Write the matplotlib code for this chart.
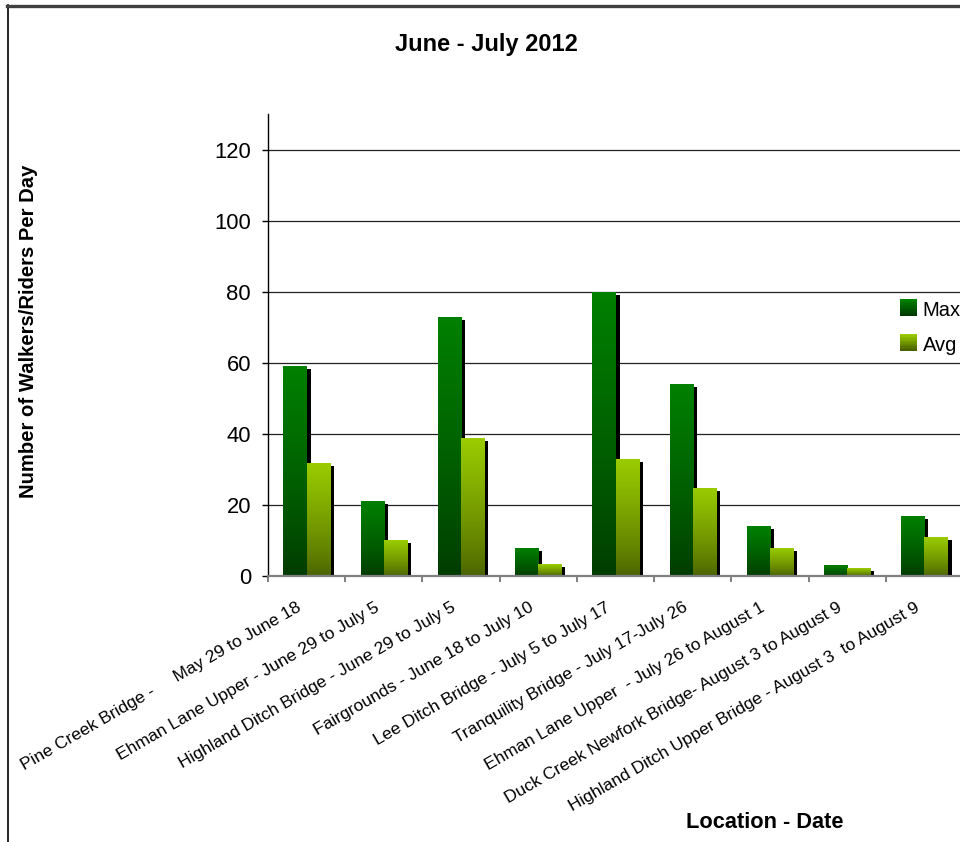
import numpy as np
import matplotlib
matplotlib.use('Agg')
import matplotlib.pyplot as plt
from matplotlib.patches import Rectangle
from matplotlib.lines import Line2D
from matplotlib.legend_handler import HandlerBase
import matplotlib.transforms as mtransforms

plt.rcParams['font.family'] = ['Liberation Sans', 'DejaVu Sans']

locations = ['Pine Creek Bridge -     May 29 to June 18',
             'Ehman Lane Upper - June 29 to July 5',
             'Highland Ditch Bridge - June 29 to July 5',
             'Fairgrounds - June 18 to July 10',
             'Lee Ditch Bridge - July 5 to July 17',
             'Tranquility Bridge - July 17-July 26',
             'Ehman Lane Upper  - July 26 to August 1',
             'Duck Creek Newfork Bridge- August 3 to August 9',
             'Highland Ditch Upper Bridge - August 3  to August 9']
max_vals = [59, 21, 73, 8, 80, 54, 14, 3, 17]
avg_vals = [31.7, 10, 38.7, 3.3, 32.8, 24.9, 8, 2.2, 10.9]

max_top, max_bot = np.array([0, 128, 0]) / 255, np.array([0, 58, 0]) / 255
avg_top, avg_bot = np.array([154, 204, 0]) / 255, np.array([74, 98, 0]) / 255

fig = plt.figure(figsize=(9.6, 8.42), dpi=100)
ax = fig.add_axes([268 / 960, 1 - 576 / 842, 695 / 960, 462 / 842])

x = np.arange(len(locations))
w = 0.3
sdx, sdy = 0.052, 0.85


def grad_bars(xs, vals, top, bot):
    bars = ax.bar(xs, vals, width=w, color='none', zorder=3)
    ramp = np.linspace(0, 1, 256) ** 0.8
    img = bot + (top - bot) * ramp[:, None, None]
    for r in bars:
        x0, h = r.get_x(), r.get_height()
        # drop shadow
        ax.add_patch(Rectangle((x0 + sdx, 0), w, max(h - sdy, 0), color='black', zorder=2, lw=0))
        im = ax.imshow(img, extent=[x0, x0 + w, 0, h], origin='lower', aspect='auto',
                       interpolation='bilinear', zorder=3)
        im.set_clip_path(r)
    return bars


grad_bars(x - 0.15, max_vals, max_top, max_bot)
grad_bars(x + 0.15, avg_vals, avg_top, avg_bot)

ax.set_xlim(-0.5, len(locations) - 0.5)
ax.set_ylim(0, 130)
ax.set_yticks(range(0, 121, 20))
ax.yaxis.grid(True, color='#222222', lw=0.9)
ax.set_axisbelow(True)
for s in ['top', 'right']:
    ax.spines[s].set_visible(False)
ax.spines['bottom'].set_color('#808080')
ax.spines['bottom'].set_linewidth(1.6)
ax.spines['bottom'].set_zorder(4)
ax.spines['left'].set_linewidth(1.0)
ax.tick_params(axis='y', length=4.3, width=1, pad=8, labelsize=15.8)

ax.set_xticks(x)
ax.set_xticks(np.arange(-0.5, len(locations)), minor=True)
ax.tick_params(axis='x', which='major', length=0, pad=17, labelsize=12.6)
ax.tick_params(axis='x', which='minor', length=4.3, width=1.4, color='#808080')
ax.set_xticklabels(locations, rotation=30, ha='right', rotation_mode='anchor')
shift = mtransforms.ScaledTranslation(-10 / 100, 0, fig.dpi_scale_trans)
for lbl in ax.get_xticklabels():
    lbl.set_transform(lbl.get_transform() + shift)


class GradHandler(HandlerBase):
    def __init__(self, top, bot):
        super().__init__()
        self.top, self.bot = top, bot

    def create_artists(self, legend, orig, xd, yd, width, height, fontsize, trans):
        n = 12
        s = width
        y0 = yd + (height - s) / 2
        out = []
        for i in range(n):
            f = i / (n - 1)
            c = self.bot + (self.top - self.bot) * f
            out.append(Rectangle((xd, y0 + s * i / n), s, s / n + 0.3,
                                 color=c, lw=0, transform=trans))
        return out


h_max = Rectangle((0, 0), 1, 1)
h_avg = Rectangle((0, 0), 1, 1)
fig.legend([h_max, h_avg], ['Max', 'Avg'],
           handler_map={h_max: GradHandler(max_top, max_bot), h_avg: GradHandler(avg_top, avg_bot)},
           loc='upper left', bbox_to_anchor=(900 / 960, 1 - 301 / 842), frameon=False,
           fontsize=14.5, handlelength=0.82, handleheight=0.8, handletextpad=0.3,
           labelspacing=0.78, borderpad=0, borderaxespad=0)

fig.text(486 / 960, 1 - 45 / 842, 'June - July 2012', ha='center', va='center',
         fontsize=17, fontweight='bold')
fig.text(29 / 960, 1 - 331 / 842, 'Number of Walkers/Riders Per Day', rotation=90,
         ha='center', va='center', fontsize=14.6, fontweight='bold')
fig.text(765 / 960, 1 - 822 / 842, 'Location - Date', ha='center', va='center',
         fontsize=15.7, fontweight='bold')

# outer frame (left edge and top edge)
fig.add_artist(Line2D([7.5 / 960, 7.5 / 960], [0, 1 - 5 / 842], color='black', lw=1.2))
fig.add_artist(Line2D([7 / 960, 1], [1 - 5.5 / 842, 1 - 5.5 / 842], color='#404040', lw=2.4))

fig.savefig('out.png', dpi=100)
